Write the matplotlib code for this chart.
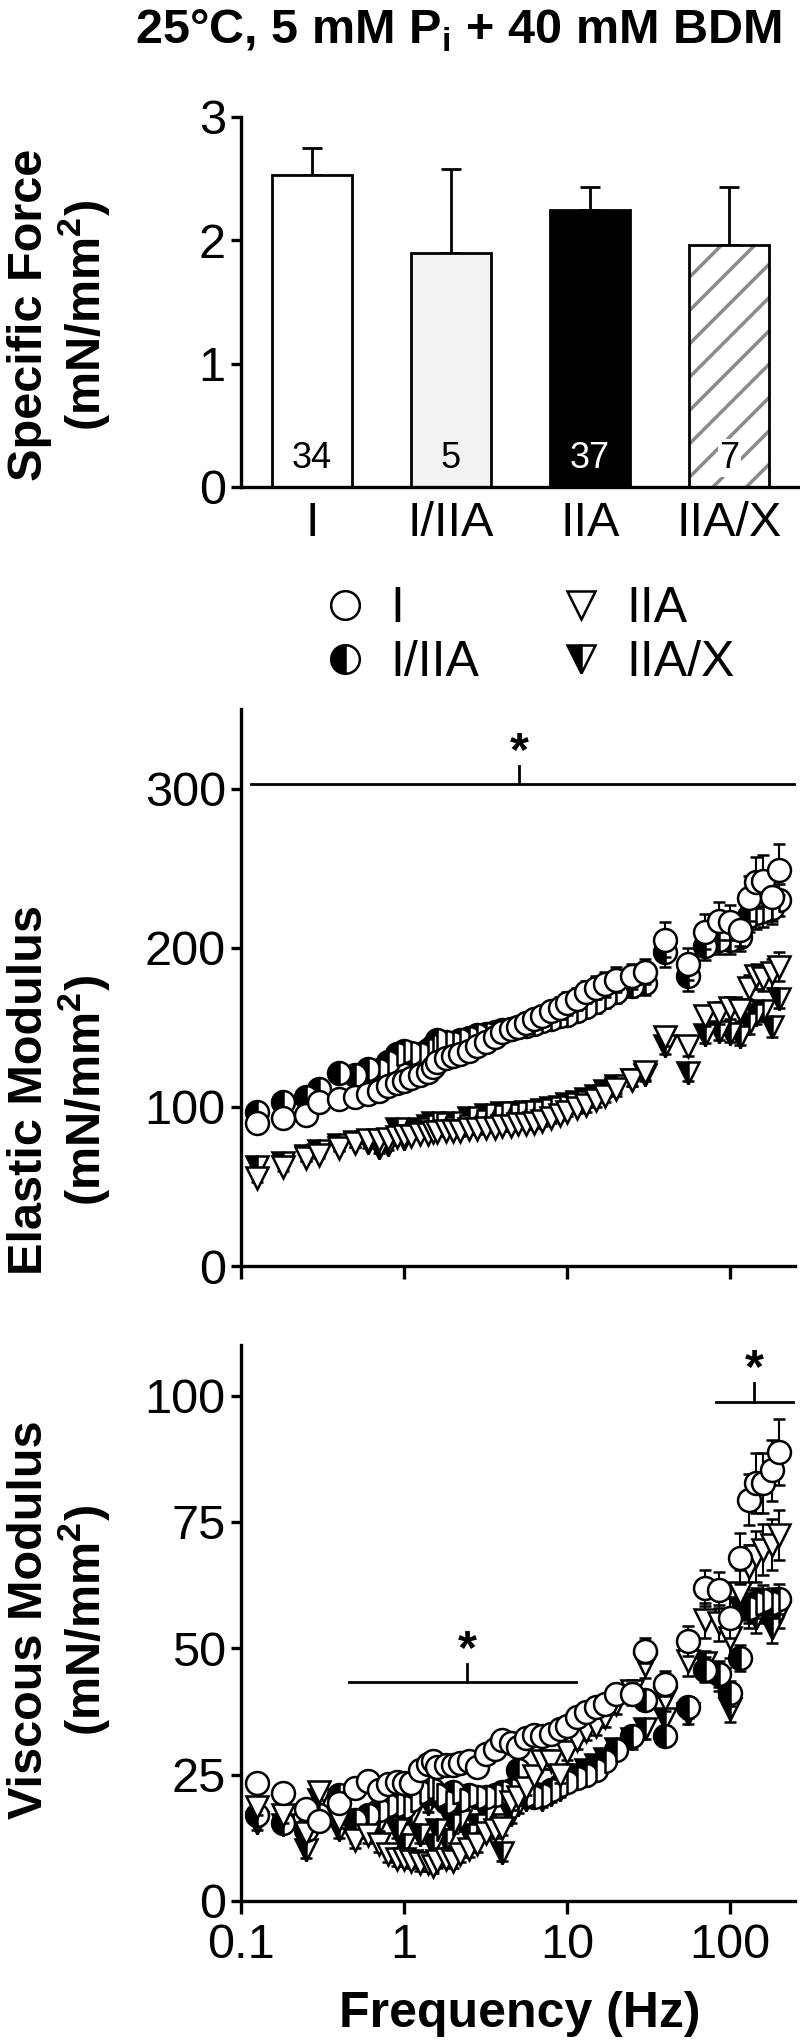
import matplotlib
matplotlib.use("Agg")

import matplotlib.pyplot as plt
import numpy as np

plt.rcParams['font.family'] = ['Liberation Sans', 'DejaVu Sans']
plt.rcParams['mathtext.fontset'] = 'custom'
plt.rcParams['mathtext.rm'] = 'Liberation Sans'
plt.rcParams['mathtext.bf'] = 'Liberation Sans:bold'
plt.rcParams['hatch.linewidth'] = 2.5

# ------------------------------------------------------------------ data --
fiber_types = ['I', 'I/IIA', 'IIA', 'IIA/X']
force_mean = [2.53, 1.90, 2.25, 1.96]
force_sem = [0.22, 0.68, 0.18, 0.47]
n_fibers = [34, 5, 37, 7]

freq = [0.125, 0.18, 0.25, 0.3, 0.4, 0.5, 0.6, 0.7, 0.8, 0.9,
        1.0, 1.1, 1.25, 1.4, 1.5, 1.6, 1.8, 2.0, 2.2, 2.5,
        2.8, 3.2, 3.6, 4.0, 4.5, 5.0, 5.6, 6.3, 7.0, 8.0,
        9.0, 10, 11.5, 13, 15, 17, 20, 25, 30, 40,
        55, 70, 85, 100, 115, 130, 145, 160, 180, 200]

elastic_I = [90, 93, 95, 103, 105, 106, 108, 110, 113, 115,
             116, 118, 120, 122, 125, 128, 131, 132, 133, 135,
             138, 141, 144, 147, 149, 150, 153, 155, 157, 160,
             162, 165, 168, 172, 175, 177, 180, 182, 185, 205,
             190, 210, 217, 216, 211, 231, 241, 242, 232, 249]
elastic_I_err = [3, 3, 3, 3, 3, 3, 3, 3, 4, 4,
                 4, 4, 4, 4, 4, 4, 5, 5, 5, 5,
                 5, 5, 5, 6, 6, 6, 6, 6, 6, 6,
                 7, 7, 7, 7, 7, 8, 8, 8, 8, 11,
                 10, 11, 12, 11, 10, 14, 16, 16, 15, 16]
elastic_I_IIA = [97, 103, 106, 111, 121, 120, 124, 123, 128, 133,
                 135, 134, 133, 136, 138, 142, 141, 140, 142, 143,
                 145, 146, 147, 148, 149, 150, 151, 152, 154, 155,
                 157, 158, 160, 163, 166, 169, 172, 176, 178, 197,
                 182, 201, 205, 205, 207, 220, 222, 223, 225, 230]
elastic_I_IIA_err = [3, 3, 3, 4, 4, 4, 4, 4, 4, 4,
                     4, 4, 4, 5, 5, 5, 5, 5, 5, 5,
                     5, 5, 5, 5, 5, 5, 6, 6, 6, 6,
                     6, 6, 6, 6, 7, 7, 7, 7, 8, 9,
                     9, 9, 9, 9, 9, 10, 10, 10, 10, 10]
elastic_IIA = [55, 62, 68, 70, 74, 77, 79, 79, 80, 81,
               82, 82, 83, 83, 84, 84, 85, 85, 85, 86,
               86, 87, 87, 88, 88, 89, 89, 90, 91, 93,
               95, 97, 99, 101, 104, 107, 111, 117, 122, 144,
               138, 157, 159, 162, 161, 175, 182, 181, 184, 188]
elastic_IIA_err = [2, 2, 2, 2, 2, 2, 2, 2, 2, 2,
                   2, 2, 2, 2, 2, 2, 2, 2, 3, 3,
                   3, 3, 3, 3, 3, 3, 3, 3, 3, 3,
                   3, 3, 3, 4, 4, 4, 4, 4, 5, 6,
                   6, 6, 7, 7, 7, 8, 8, 8, 9, 9]
elastic_IIA_X = [62, 65, 69, 72, 76, 78, 77, 74, 76, 86,
                 80, 84, 86, 88, 90, 89, 87, 90, 88, 93,
                 91, 95, 94, 96, 95, 96, 97, 97, 98, 99,
                 100, 102, 103, 105, 107, 110, 113, 117, 120, 138,
                 121, 145, 147, 146, 144, 152, 158, 160, 150, 168]
elastic_IIA_X_err = [3, 3, 3, 3, 3, 3, 3, 3, 3, 3,
                     3, 3, 3, 3, 3, 3, 3, 3, 3, 3,
                     3, 3, 3, 3, 3, 3, 3, 3, 3, 3,
                     3, 3, 3, 4, 4, 4, 4, 4, 4, 5,
                     5, 5, 5, 5, 5, 6, 6, 6, 6, 6]

viscous_I = [23.4, 21.3, 18.2, 15.9, 19.3, 22.4, 23.8, 22.0, 23.2, 23.5,
             23.4, 23.4, 26.0, 27.2, 27.6, 26.6, 27.0, 27.0, 27.3, 27.6,
             26.6, 29.0, 30.0, 31.8, 31.3, 30.4, 32.2, 32.9, 32.7, 33.0,
             34.1, 34.6, 36.4, 37.4, 38.3, 39.0, 41.0, 41.0, 49.5, 43.0,
             51.4, 61.9, 61.5, 56.0, 67.8, 79.4, 82.7, 82.7, 85.2, 88.8]
viscous_I_err = [1.0, 1.0, 1.0, 1.0, 1.0, 1.0, 1.0, 1.0, 1.0, 1.0,
                 1.0, 1.0, 1.2, 1.2, 1.2, 1.2, 1.2, 1.2, 1.2, 1.2,
                 1.2, 1.3, 1.3, 1.4, 1.4, 1.4, 1.5, 1.5, 1.5, 1.5,
                 1.6, 1.6, 1.7, 1.7, 1.8, 1.8, 2.0, 2.2, 2.5, 2.5,
                 3.0, 3.5, 3.5, 4.0, 5.0, 5.0, 6.0, 6.0, 6.0, 6.5]
viscous_I_IIA = [17.0, 15.5, 14.0, 17.0, 21.0, 16.0, 17.0, 18.0, 19.0, 19.0,
                 18.5, 20.0, 21.5, 22.5, 22.0, 21.0, 19.5, 21.5, 20.0, 21.0,
                 20.5, 20.6, 21.0, 21.5, 22.0, 26.0, 21.0, 20.6, 21.0, 22.0,
                 23.0, 23.5, 24.3, 25.0, 26.0, 27.6, 29.9, 32.7, 39.7, 32.7,
                 38.3, 45.8, 44.9, 41.1, 48.1, 58.0, 59.0, 59.5, 59.0, 59.8]
viscous_I_IIA_err = [1.5, 1.5, 1.5, 1.5, 1.5, 1.5, 1.5, 1.5, 1.5, 1.5,
                     1.5, 1.5, 1.5, 1.5, 1.5, 1.5, 1.5, 1.5, 1.5, 1.5,
                     1.5, 1.5, 1.5, 1.5, 1.5, 1.5, 1.5, 1.5, 1.5, 1.5,
                     1.5, 1.5, 1.5, 1.5, 1.5, 1.5, 1.8, 2.0, 2.0, 2.0,
                     2.0, 2.5, 2.5, 2.5, 2.5, 3.0, 3.0, 3.0, 3.0, 3.0]
viscous_IIA = [18.5, 17.0, 13.5, 21.5, 16.0, 12.0, 13.0, 11.2, 9.3, 8.4,
               8.4, 8.0, 7.5, 7.5, 7.0, 8.0, 8.4, 8.0, 9.3, 10.3,
               11.2, 13.5, 14.0, 14.5, 19.6, 20.6, 22.4, 24.8, 27.6, 27.6,
               25.0, 29.4, 31.8, 33.6, 34.6, 36.4, 39.0, 41.6, 46.7, 40.0,
               47.5, 55.5, 55.0, 52.0, 61.0, 66.0, 68.2, 69.5, 70.5, 72.4]
viscous_IIA_err = [1.5, 1.5, 1.5, 1.5, 1.5, 1.5, 1.5, 1.5, 1.5, 1.5,
                   1.5, 1.5, 1.5, 1.5, 1.5, 1.5, 1.5, 1.5, 1.5, 1.5,
                   1.5, 1.5, 1.5, 1.5, 1.5, 1.5, 1.5, 1.5, 1.5, 1.5,
                   1.6, 1.6, 1.7, 1.8, 1.8, 1.9, 2.0, 2.2, 2.5, 2.5,
                   3.0, 3.5, 3.5, 4.0, 4.5, 4.5, 5.0, 5.0, 5.0, 5.0]
viscous_IIA_X = [15.5, 15.0, 10.0, 20.0, 14.0, 13.0, 14.0, 15.4, 18.2, 14.0,
                 11.0, 16.8, 13.0, 19.2, 11.0, 14.0, 12.0, 15.0, 15.9, 13.0,
                 15.0, 17.0, 15.0, 9.5, 17.0, 19.0, 20.0, 21.0, 20.0, 21.0,
                 22.0, 24.0, 25.0, 26.0, 27.0, 28.0, 30.0, 32.0, 34.0, 36.0,
                 37.0, 47.0, 44.0, 38.0, 58.0, 57.0, 56.0, 58.0, 54.0, 57.0]
viscous_IIA_X_err = [1.5, 1.5, 1.5, 1.5, 1.5, 1.5, 1.5, 1.5, 1.5, 1.5,
                     1.5, 1.5, 1.5, 1.5, 1.5, 1.5, 1.5, 1.5, 1.5, 1.5,
                     1.5, 1.5, 1.5, 1.5, 1.5, 1.5, 1.5, 1.5, 1.5, 1.5,
                     1.5, 1.5, 1.5, 1.5, 1.5, 1.5, 1.8, 2.0, 2.0, 2.0,
                     2.0, 2.5, 2.5, 2.5, 2.5, 3.0, 3.0, 3.0, 3.0, 3.0]

# significance brackets: (x_left, x_right, x_stem, level, stem_top)
elastic_sig = [(0.115, 245, 5.1, 303, 314)]
viscous_sig = [(0.46, 11.4, 2.44, 43.3, 46.8), (82, 244, 140, 98.8, 102.4)]

# ---------------------------------------------------------------- layout --
W, H = 800, 2041
FS = 35
LW = 2.4

fig = plt.figure(figsize=(W / 100, H / 100), dpi=100)
fig.patch.set_facecolor("white")


def px_axes(left, top, right, bottom):
    """Axes placed in pixel coordinates, y measured from the top."""
    return fig.add_axes([left / W, 1 - bottom / H,
                         (right - left) / W, (bottom - top) / H])


def style(ax):
    for s in ('top', 'right'):
        ax.spines[s].set_visible(False)
    for s in ('left', 'bottom'):
        ax.spines[s].set_linewidth(LW)
    ax.tick_params(width=LW, length=7, labelsize=FS, pad=4, direction='out')


# ------------------------------------------------------------- bar chart --
axb = px_axes(241, 117, 800, 487)
style(axb)
xpos = np.arange(len(fiber_types))
fills = ['white', '#f2f2f2', 'black', 'white']
bars = axb.bar(xpos, force_mean, width=0.575, color=fills, linewidth=0,
               zorder=2)
bars[3].set_edgecolor('#8a8a8a')
bars[3].set_hatch('/')
axb.bar(xpos, force_mean, width=0.575, fill=False, edgecolor='black',
        linewidth=2, zorder=3)
axb.errorbar(xpos, force_mean, yerr=[np.zeros(len(force_sem)), force_sem],
             fmt='none', ecolor='black', elinewidth=2, capsize=7, capthick=2,
             zorder=1)
for xi, n, fc in zip(xpos, n_fibers, fills):
    kw = {}
    if xi == 3:
        kw['bbox'] = dict(facecolor='white', edgecolor='none', pad=1)
    axb.text(xi, 0.155, str(n), ha='center', va='baseline', fontsize=26,
             color='white' if fc == 'black' else 'black', zorder=4, **kw)
axb.set_xlim(-0.51, 3.51)
axb.set_ylim(0, 3)
axb.set_yticks([0, 1, 2, 3])
axb.set_xticks(xpos, fiber_types)
axb.tick_params(axis='x', length=0, pad=10)

# ----------------------------------------------------------- line panels --
series_style = [
    dict(marker='o', mfc='white', fillstyle='full', z=5),
    dict(marker='o', mfc='black', fillstyle='left', z=3),
    dict(marker='v', mfc='white', fillstyle='full', z=4),
    dict(marker='v', mfc='black', fillstyle='left', z=2),
]


def draw_series(ax, values, errors):
    lines = []
    for vals, errs, st in zip(values, errors, series_style):
        c = ax.errorbar(freq, vals, yerr=errs, fmt=st['marker'], ls='none',
                        ms=16.5, mfc=st['mfc'], mec='black', mew=1.8,
                        fillstyle=st['fillstyle'], markerfacecoloralt='white',
                        ecolor='black', elinewidth=1.5, capsize=4,
                        capthick=1.5, zorder=st['z'])
        lines.append(c[0])
    return lines


def draw_sig(ax, sigs):
    for xl, xr, xs, lev, top in sigs:
        ax.plot([xl, xr], [lev, lev], color='black', lw=2, clip_on=False,
                zorder=6)
        ax.plot([xs, xs], [lev, top], color='black', lw=2, clip_on=False,
                zorder=6)
        ax.annotate('*', xy=(xs, top), xytext=(0, 1),
                    textcoords='offset points', ha='center', va='baseline',
                    fontsize=FS, fontweight='bold', annotation_clip=False)


def log_axis(ax):
    ax.set_xscale('log')
    ax.set_xlim(0.1, 250)
    ax.set_xticks([0.1, 1, 10, 100])
    ax.xaxis.set_minor_locator(matplotlib.ticker.NullLocator())


axe = px_axes(241, 709, 795, 1266)
style(axe)
handles = draw_series(axe,
                      [elastic_I, elastic_I_IIA, elastic_IIA, elastic_IIA_X],
                      [elastic_I_err, elastic_I_IIA_err, elastic_IIA_err,
                       elastic_IIA_X_err])
draw_sig(axe, elastic_sig)
log_axis(axe)
axe.set_xticklabels([])
axe.set_ylim(0, 350)
axe.set_yticks([0, 100, 200, 300])
axe.tick_params(axis='x', length=9)

axv = px_axes(241, 1345, 795, 1901)
style(axv)
draw_series(axv, [viscous_I, viscous_I_IIA, viscous_IIA, viscous_IIA_X],
            [viscous_I_err, viscous_I_IIA_err, viscous_IIA_err,
             viscous_IIA_X_err])
draw_sig(axv, viscous_sig)
log_axis(axv)
axv.set_xticklabels(['0.1', '1', '10', '100'])
axv.set_ylim(0, 110)
axv.set_yticks([0, 25, 50, 75, 100])
axv.tick_params(axis='x', length=9, pad=7)

# ------------------------------------------------------------------ text --
fig.text(458 / W, 1 - 44 / H, r'25°C, 5 mM P$_\mathbf{i}$ + 40 mM BDM',
         fontsize=FS, fontweight='bold', ha='center', va='baseline')

ylab_kw = dict(rotation=90, ha='center', va='center', fontsize=FS,
               fontweight='bold', multialignment='center', linespacing=1.1)
fig.text(60 / W, 1 - 315 / H, 'Specific Force\n(mN/mm$^\\mathbf{2}$)',
         **ylab_kw)
fig.text(60 / W, 1 - 1090 / H, 'Elastic Modulus\n(mN/mm$^\\mathbf{2}$)',
         **ylab_kw)
fig.text(60 / W, 1 - 1620 / H, 'Viscous Modulus\n(mN/mm$^\\mathbf{2}$)',
         **ylab_kw)
fig.text(520 / W, 1 - 2027 / H, 'Frequency (Hz)', fontsize=36,
         fontweight='bold', ha='center', va='baseline')

fig.legend(handles, fiber_types, ncol=2, loc='upper left',
           bbox_to_anchor=(320 / W, 1 - 586 / H), frameon=False,
           fontsize=36, markerscale=1.25, handlelength=1.0,
           handletextpad=0.4, columnspacing=1.55, labelspacing=0.16,
           borderpad=0, borderaxespad=0)

fig.savefig('out.png', dpi=100, facecolor='white')
